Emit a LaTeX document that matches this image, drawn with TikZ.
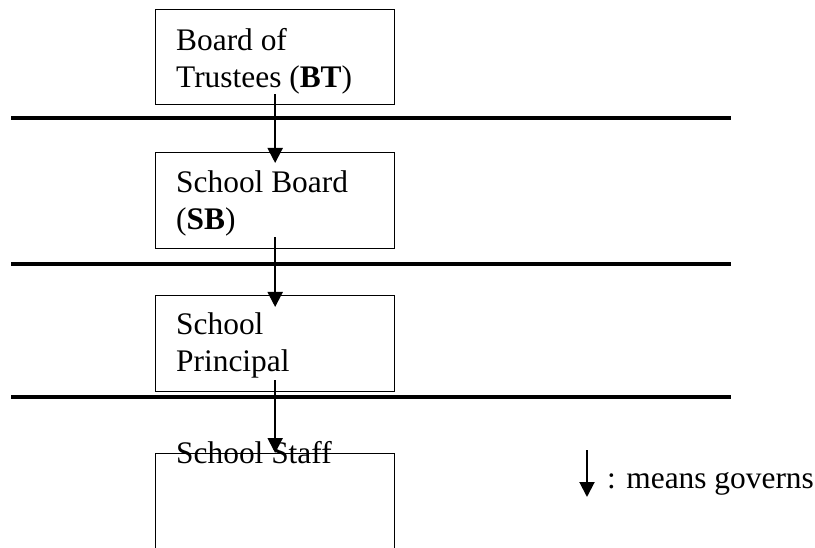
\documentclass[tikz,border=0pt]{standalone}
\usepackage{fontspec}
\setmainfont{Liberation Serif}
\usetikzlibrary{positioning,arrows.meta}
\tikzset{
  unit/.style={draw,line width=1.3pt,minimum width=239pt,minimum height=96pt,inner sep=0pt,anchor=north west},
  lbl/.style={anchor=base west,align=left,inner sep=0pt,font=\fontsize{31.4}{37.3}\selectfont},
  govern/.style={line width=2pt,-{Triangle[width=15pt,length=15pt]}},
  level/.style={line width=4.5pt}
}
\begin{document}
\begin{tikzpicture}[x=1pt,y=-1pt]
\useasboundingbox (0,0) rectangle (815,548);

\node[unit,minimum height=95pt] (bt) at (155,9) {};
\node[unit] (sb) at (155,152) {};
\node[unit] (sp) at (155,295) {};
\node[unit] (ss) at (155,453) {};

% base anchor sits on the last line
\node[lbl] (btt) at ([xshift=21pt,yshift=-79pt]bt.north west) {Board of\\Trustees (\textbf{BT})};
\node[lbl] (sbt) at ([xshift=21pt,yshift=-78pt]sb.north west) {School Board\\(\textbf{SB})};
\node[lbl] (spt) at ([xshift=21pt,yshift=-77pt]sp.north west) {School\\Principal};
\node[lbl] (sst) at ([xshift=21pt,yshift=-10pt]ss.north west) {School Staff};

\foreach \y in {118,264,397}
\draw[level] (11,\y) -- (731,\y);

\draw[govern] ([yshift=11pt]bt.south) -- ([yshift=-11pt]sb.north);
\draw[govern] ([yshift=12pt]sb.south) -- ([yshift=-12pt]sp.north);
\draw[govern] ([yshift=12pt]sp.south) -- (ss.north);

% legend
\coordinate (keytop) at (587,450);
\coordinate (keyend) at (587,497);
\draw[govern] (keytop) -- (keyend);
\node[lbl] (key) at (607,488) {: means governs};
\end{tikzpicture}
\end{document}
